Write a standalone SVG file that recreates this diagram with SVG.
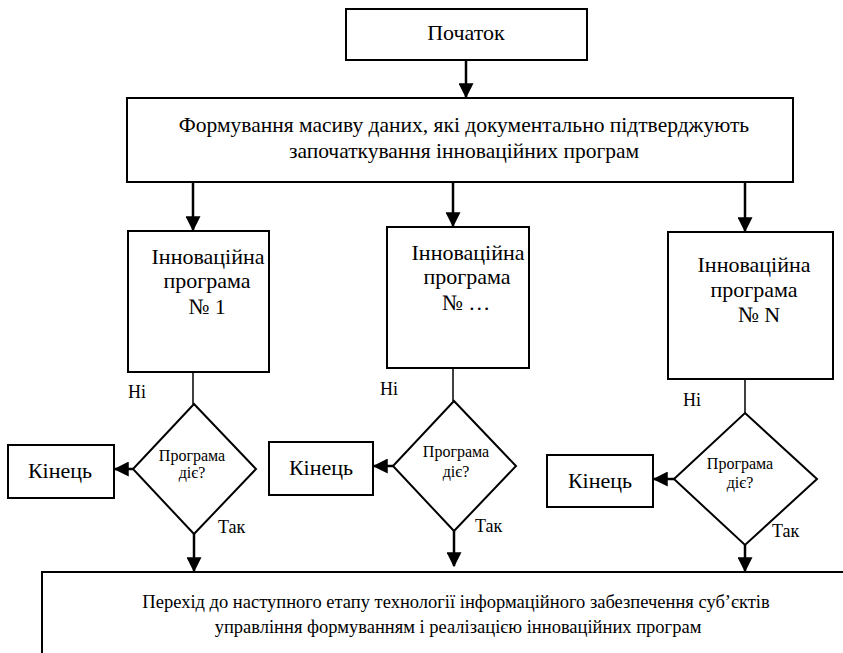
<svg xmlns="http://www.w3.org/2000/svg" width="843" height="653" viewBox="0 0 843 653">
<defs>
<style>
.box{fill:#fff;stroke:#000;stroke-width:2}
text{font-family:'Liberation Serif','Times New Roman',serif;fill:#000}
.t{font-size:22px;text-anchor:middle}
.m{font-size:21.5px;text-anchor:middle}
.b{font-size:18.5px;text-anchor:middle}
.s{font-size:16px;text-anchor:middle}
.l{font-size:18px}
.a{stroke:#000;stroke-width:2.5;fill:none;marker-end:url(#ah)}
.c{stroke:#000;stroke-width:1.5;fill:none}
</style>
<marker id="ah" markerWidth="6" markerHeight="6" refX="5.5" refY="3" orient="auto" markerUnits="strokeWidth" viewBox="0 0 6 6">
<path d="M0,0 L6,3 L0,6 z" fill="#000"/>
</marker>
</defs>
<rect width="843" height="653" fill="#fff"/>

<g id="connectors">
<line class="a" x1="466" y1="60" x2="466" y2="97"/>
<line class="a" x1="193" y1="182" x2="193" y2="230"/>
<line class="a" x1="453" y1="182" x2="453" y2="226"/>
<line class="a" x1="745" y1="182" x2="745" y2="231"/>
<line class="c" x1="193" y1="372" x2="193" y2="404"/>
<line class="c" x1="453" y1="368" x2="453" y2="401"/>
<line class="c" x1="745" y1="379" x2="745" y2="413"/>
<line class="a" x1="133" y1="469" x2="115" y2="469"/>
<line class="a" x1="393" y1="466" x2="374" y2="466"/>
<line class="a" x1="674" y1="479" x2="654" y2="479"/>
<line class="a" x1="194" y1="534" x2="194" y2="571"/>
<line class="a" x1="454" y1="531" x2="454" y2="566"/>
<line class="a" x1="745" y1="545" x2="745" y2="571"/>
<text class="l" x="128" y="398">Ні</text>
<text class="l" x="380" y="395">Ні</text>
<text class="l" x="683" y="406">Ні</text>
<text class="l" x="218" y="533" font-size="19">Так</text>
<text class="l" x="475" y="532" font-size="19">Так</text>
<text class="l" x="772" y="537" font-size="19">Так</text>
</g>

<g id="start">
<rect class="box" x="346" y="9" width="241" height="51"/>
<text class="t" x="466" y="40">Початок</text>
</g>

<g id="data">
<rect class="box" x="127" y="98" width="666" height="84"/>
<text class="m" x="464" y="132">Формування масиву даних, які документально підтверджують</text>
<text class="m" x="464" y="158">започаткування інноваційних програм</text>
</g>

<g id="prog1">
<rect class="box" x="128" y="231" width="141" height="141"/>
<text class="t" x="208" y="264">Інноваційна</text>
<text class="t" x="207" y="288">програма</text>
<text class="t" x="207" y="314">№ 1</text>
</g>

<g id="prog2">
<rect class="box" x="387" y="227" width="142" height="141"/>
<text class="t" x="468" y="260">Інноваційна</text>
<text class="t" x="467" y="284">програма</text>
<text class="t" x="466" y="310">№ …</text>
</g>

<g id="progN">
<rect class="box" x="668" y="232" width="165" height="147"/>
<text class="t" x="754" y="272">Інноваційна</text>
<text class="t" x="754" y="297">програма</text>
<text class="t" x="759" y="322">№ N</text>
</g>

<g id="dec1">
<polygon class="box" points="194,404 256,469 194,534 133,469"/>
<text class="s" x="192" y="461">Програма</text>
<text class="s" x="192" y="478">діє?</text>
</g>

<g id="dec2">
<polygon class="box" points="454,401 516,466 454,531 393,466"/>
<text class="s" x="456" y="457">Програма</text>
<text class="s" x="456" y="477">діє?</text>
</g>

<g id="decN">
<polygon class="box" points="745,413 817,479 745,545 674,479"/>
<text class="s" x="740" y="469">Програма</text>
<text class="s" x="740" y="488">діє?</text>
</g>

<g id="end1">
<rect class="box" x="8" y="445" width="106" height="53"/>
<text class="t" x="60" y="478">Кінець</text>
</g>

<g id="end2">
<rect class="box" x="269" y="442" width="104" height="53"/>
<text class="t" x="321" y="475">Кінець</text>
</g>

<g id="endN">
<rect class="box" x="547" y="455" width="106" height="52"/>
<text class="t" x="600" y="488">Кінець</text>
</g>

<g id="next">
<rect class="box" x="42" y="572" width="830" height="100"/>
<text class="b" x="456" y="608">Перехід до наступного етапу технології інформаційного забезпечення суб’єктів</text>
<text class="b" x="458" y="633">управління формуванням і реалізацією інноваційних програм</text>
</g>
</svg>
